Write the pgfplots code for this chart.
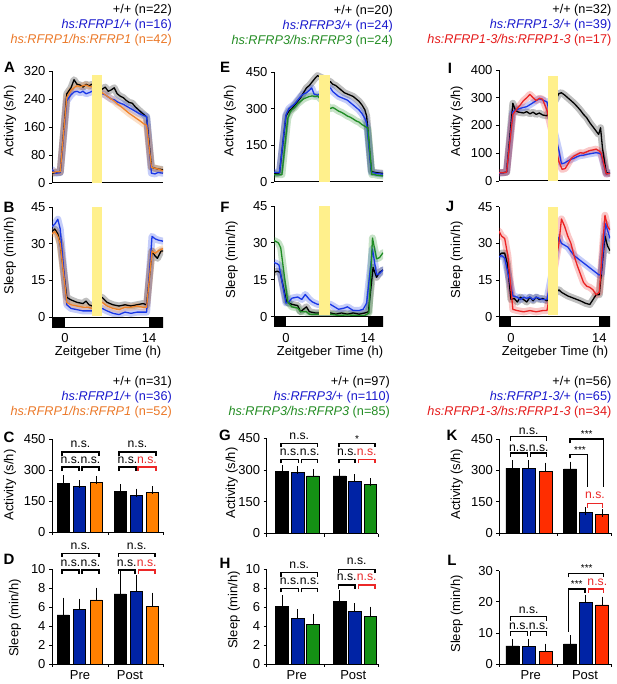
\documentclass[border=0pt]{standalone}
\usepackage{pgfplots}
\pgfplotsset{compat=1.18}
\usepackage{pgfplotstable}
\usepackage{fontspec}
\setmainfont{Liberation Sans}
\setsansfont{Liberation Sans}

\definecolor{tsblue}{RGB}{25,55,230}
\definecolor{tsorange}{RGB}{240,130,40}
\definecolor{tsgreen}{RGB}{30,140,35}
\definecolor{tsred}{RGB}{235,35,35}
\definecolor{barblue}{RGB}{0,35,165}
\definecolor{barorange}{RGB}{255,128,0}
\definecolor{bargreen}{RGB}{20,145,20}
\definecolor{barred}{RGB}{255,45,0}
\definecolor{hsyellow}{RGB}{255,240,140}
\definecolor{txtblue}{RGB}{25,25,205}
\definecolor{txtorange}{RGB}{235,120,40}
\definecolor{txtgreen}{RGB}{35,140,35}
\definecolor{txtred}{RGB}{228,25,25}
\definecolor{nsred}{RGB}{235,40,40}

\newcommand{\lblfont}{\fontsize{13}{15}\selectfont}
\newcommand{\hdrfont}{\fontsize{12.7}{15}\selectfont}
\newcommand{\nsfont}{\fontsize{12.2}{14}\selectfont}
\newcommand{\starfont}{\fontsize{10}{11}\selectfont}
\newcommand{\letfont}{\fontsize{15}{17}\selectfont\bfseries}

\pgfplotsset{
  panel/.style={scale only axis, axis x line*=bottom, axis y line*=left,
    axis line style={line width=1pt, black}, tick align=outside, major tick length=3pt,
    tick style={line width=0.8pt, black}, font=\lblfont, tick label style={font=\lblfont},
    label style={font=\lblfont}, /pgf/number format/assume math mode=true, anchor=south west},
  ts/.style={panel, xtick=\empty},
  ld/.style={panel, xtick={0,14}, xtick style={draw=none}, ymin=-4.09, ymax=45, ytick={0,15,30,45}, xlabel={Zeitgeber Time (h)}},
  barp/.style={panel, xmin=0, xtick style={draw=none}, clip=false},
  bars/.style={ybar, bar shift=0pt, draw=black, line width=0.6pt,
    error bars/y dir=plus, error bars/y explicit,
    error bars/error bar style={line width=0.9pt, black},
    error bars/error mark options={line width=0.9pt, black, mark size=4pt}},
}
\newcommand{\band}[2]{\addplot[draw=#1, line width=7pt, opacity=0.25, line join=round, line cap=round] table[x=h,y=v]{#2};}
\newcommand{\tsline}[2]{\addplot[draw=#1, line width=1.3pt, line join=round] table[x=h,y=v]{#2};}
\newcommand{\brk}[6]{\draw[#6, line width=1.1pt] (#1,#4) -- (#1,#3) -- (#2,#3) -- (#2,#5);}
\newcommand{\ns}[3]{\node[font=\nsfont, text=#3, inner sep=0] at (#1,#2) {n.s.};}
\newcommand{\stars}[3]{\node[font=\starfont, inner sep=0] at (#1,#2) {#3};}

% ---------- time series data ----------
\pgfplotstableread{
h v
-2.17 28
-1.5 30
-0.8 30
0.3 255
1 272
1.5 295
2 282
2.5 280
3 274
3.5 282
4 278
4.5 282
6.2 268
6.7 274
7.2 262
7.7 266
8.2 272
8.7 255
9.2 248
9.7 244
10.2 236
10.7 230
11.2 228
11.7 218
12.2 210
12.7 202
13.2 195
13.6 188
14.4 45
15 42
15.5 40
16.33 38
}\tAk
\pgfplotstableread{
h v
-2.17 38
-1.5 28
-0.8 30
0.3 235
1 252
1.5 260
2 262
2.5 258
3 262
3.5 255
4 258
4.5 262
6.2 255
6.7 252
7.2 246
7.7 240
8.2 238
8.7 232
9.2 228
9.7 225
10.2 220
10.7 215
11.2 210
11.7 205
12.2 200
12.7 196
13.2 192
13.6 190
14.4 28
15 26
15.5 30
16.33 28
}\tAb
\pgfplotstableread{
h v
-2.17 30
-1.5 32
-0.8 32
0.3 245
1 265
1.5 272
2 278
2.5 275
3 278
3.5 280
4 276
4.5 275
6.2 258
6.7 252
7.2 246
7.7 240
8.2 234
8.7 226
9.2 220
9.7 213
10.2 206
10.7 199
11.2 193
11.7 187
12.2 181
12.7 175
13.2 168
13.6 165
14.4 45
15 42
15.5 40
16.33 35
}\tAo
\pgfplotstableread{
h v
-2.17 35
-1.7 36
-1.2 34
-0.8 30
0.3 8
1 7
2 6
3 5.5
3.5 6.5
4 5
4.5 4.5
6.2 8
7 6
8 5
9 4.5
10 5
11 4.5
12 5
13 5.5
13.6 5
14.5 27
15 25
15.4 24
16 27
16.33 27
}\tBk
\pgfplotstableread{
h v
-2.17 37
-1.7 38
-1.2 40
-0.8 36
0.3 5
1 3.5
2 3
3 2.5
4 2.5
4.5 2.5
6.2 3.5
7 2.5
8 1.5
9 1
10 2
11 1.5
12 2
13 2
13.6 2
14.5 33
15 32
15.5 31.5
16.33 31
}\tBb
\pgfplotstableread{
h v
-2.17 34
-1.7 35
-1.2 33
-0.8 30
0.3 6
1 5
2 4.5
3 4
4 4
4.5 3.5
6.2 6
7 4.5
8 3.5
9 3
10 4
11 4
12 4.5
13 4
13.6 4
14.5 27
15 26
15.5 27
16.33 28
}\tBo
\pgfplotstableread{
h v
-2.05 35
-1.5 35
-1.1 38
0 270
0.5 290
1 300
1.5 315
2 330
2.5 345
3 365
3.5 385
4 395
4.5 410
5 425
5.4 435
7.6 410
8 400
8.5 395
9 385
9.5 375
10 365
10.5 360
11 355
11.5 350
12 340
12.5 330
13 315
13.5 295
13.8 270
14.6 45
15 40
15.5 38
16.6 35
}\tEk
\pgfplotstableread{
h v
-2.05 40
-1.5 38
-1.1 40
0 275
0.5 300
1 310
1.5 320
2 335
2.5 350
3 360
3.5 365
4 375
4.4 385
4.8 360
5.4 355
7.6 385
8 370
8.5 360
9 350
9.5 345
10 340
10.5 335
11 325
11.5 315
12 305
12.5 295
13 280
13.5 260
13.8 240
14.6 40
15 38
15.5 35
16.6 32
}\tEb
\pgfplotstableread{
h v
-2.05 30
-1.5 30
-0.7 30
0.3 260
0.7 285
1 295
1.5 305
2 320
2.5 330
3 340
3.5 345
4 350
4.5 352
5 350
5.4 352
7.6 300
8 305
8.5 298
9 290
9.5 285
10 278
10.5 270
11 265
11.5 258
12 250
12.5 245
13 235
13.5 228
14 220
14.7 30
15 32
15.5 28
16.6 25
}\tEg
\pgfplotstableread{
h v
-2.05 18
-1.5 18.5
-1 18
0.1 6
1 5
2 4.5
2.5 2
3.5 4
4 2
5 1.5
5.4 1.5
7.6 1.5
8.5 1
9.5 1.5
10.5 1
11.5 1.5
12.5 1
13.5 1.5
14.1 2
14.9 20
15.5 16
16 18
16.6 19
}\tFk
\pgfplotstableread{
h v
-2.05 22
-1.5 21.5
-1.2 21
0 5.5
0.5 6
1 7.5
2 8
2.7 7
3.3 9
4 7
4.5 6
5.4 5
7.6 5
8.3 4
9 3
10 3.5
10.5 4
11.5 2.5
12.5 2.5
13.2 3
13.8 5.5
14.8 27.5
15.5 17
16 17.5
16.6 19
}\tFb
\pgfplotstableread{
h v
-2.05 31
-1.3 30
-0.9 28
0.3 6
1 4
2 3.5
2.5 2
3.5 2
4 1
5.4 1
7.6 1
9 0.5
10.5 0.7
12 0.5
13.5 0.5
14.2 1.5
14.8 32
15.5 23.5
16 24
16.6 26
}\tFg
\pgfplotstableread{
h v
-1.9 30
-1.2 30
-0.7 32
0.3 280
0.7 255
1.2 248
2 245
2.5 250
3 242
3.5 248
4 240
4.5 245
5 238
5.7 235
7.6 315
8 318
8.5 310
9 300
9.5 290
10 280
10.5 268
11 255
11.5 240
12 228
12.5 210
13 195
13.5 180
13.9 168
14.2 192
14.5 120
15.1 30
15.7 28
}\tIk
\pgfplotstableread{
h v
-1.9 28
-1.2 30
-0.7 32
0.3 250
1 258
1.5 262
2 265
2.5 268
3 275
3.5 282
4 290
4.5 296
5 292
5.7 285
7.6 110
8 62
8.5 65
9 72
9.5 78
10 82
10.5 88
11 92
11.5 93
12 96
12.5 98
13 100
13.5 102
14 100
14.3 95
15.1 25
15.7 30
}\tIb
\pgfplotstableread{
h v
-1.9 30
-1.2 30
-0.7 32
0.3 240
1 262
1.5 275
2 290
2.5 300
3 312
3.5 300
4 290
4.5 298
5 295
5.7 255
7.6 70
8.1 42
8.6 45
9 60
9.5 80
10 90
10.5 96
11 102
11.5 100
12 105
12.5 110
13 112
13.5 115
14 108
14.3 100
15.1 25
15.7 28
}\tIr
\pgfplotstableread{
h v
-1.9 25
-1.5 26
-1 26
-0.6 22
0 7
0.5 7.5
1 6
1.5 8
2 7
2.5 6
3 8
3.5 6.5
4 8
4.5 7
5 7.5
5.7 6.5
7.6 11
8 10
9 8.5
10 7.5
11 6.5
11.8 5.5
12.5 5
13 7
13.5 9
14 9
14.9 33
15.3 29
15.7 27
}\tJk
\pgfplotstableread{
h v
-1.9 24.5
-1.5 25
-1 24
-0.5 18
0.3 8.5
1 8
1.5 7
2 8
2.5 7.5
3 8
3.5 7
4 8
4.5 7.5
5 7
5.7 7
7.6 32.5
8 30
9 28.5
10 25
10.5 24
11 23
12 21
13 19
14 17
14.3 17.5
15 38
15.7 32
}\tJb
\pgfplotstableread{
h v
-1.9 35
-1.5 33
-1 32
-0.5 25
0.3 3
1 2.5
2 2
3 2.5
4 2
5 2.5
5.7 2.5
7.6 30
8 40
8.5 37
9 33
9.5 30
10 25
10.5 21
11 17.5
11.5 14
12 12.5
12.5 12
13 11
13.5 9
14 10
14.9 41.5
15.3 37
15.7 35.5
}\tJr

\begin{document}
\begin{tikzpicture}
\useasboundingbox (0pt,0pt) rectangle (617pt,-684pt);

% ===== A =====
\begin{axis}[ts, at={(52pt,-183pt)}, width=111pt, height=112pt, xmin=-2.17, xmax=16.33, ymin=0, ymax=320,
  ytick={0,80,160,240,320}, ylabel={Activity (s/h)}, ylabel style={at={(axis description cs:-0.378,0.554)}, anchor=center}]
\band{black}{\tAk}\band{tsblue}{\tAb}\band{tsorange}{\tAo}
\tsline{black}{\tAk}\tsline{tsblue}{\tAb}\tsline{tsorange}{\tAo}
\fill[hsyellow] (axis cs:4.5,0) rectangle (axis cs:6.2,308);
\end{axis}
% ===== B =====
\begin{axis}[ld, at={(52pt,-327pt)}, width=111pt, height=120pt, xmin=-2.17, xmax=16.33,
  ylabel={Sleep (min/h)}, ylabel style={at={(axis description cs:-0.378,0.592)}, anchor=center},
  xlabel style={at={(axis description cs:0.505,-0.208)}, anchor=center}]
\band{black}{\tBk}\band{tsblue}{\tBb}\band{tsorange}{\tBo}
\tsline{black}{\tBk}\tsline{tsblue}{\tBb}\tsline{tsorange}{\tBo}
\fill[hsyellow] (axis cs:4.5,0.6) rectangle (axis cs:6.2,45);
\draw[line width=0.8pt, fill=white] (axis cs:-2.17,-4.09) rectangle (axis cs:16.33,0);
\fill[black] (axis cs:-2.17,-4.09) rectangle (axis cs:0,0);
\fill[black] (axis cs:14,-4.09) rectangle (axis cs:16.33,0);
\end{axis}
% ===== E =====
\begin{axis}[ts, at={(274pt,-182pt)}, width=109pt, height=110pt, xmin=-2.05, xmax=16.6, ymin=0, ymax=450,
  ytick={0,150,300,450}, ylabel={Activity (s/h)}, ylabel style={at={(axis description cs:-0.404,0.555)}, anchor=center}]
\band{black}{\tEk}\band{tsblue}{\tEb}\band{tsgreen}{\tEg}
\tsline{black}{\tEk}\tsline{tsblue}{\tEb}\tsline{tsgreen}{\tEg}
\fill[hsyellow] (axis cs:5.6,0) rectangle (axis cs:7.5,437);
\end{axis}
% ===== F =====
\begin{axis}[ld, at={(274pt,-326.7pt)}, width=109pt, height=120.7pt, xmin=-2.05, xmax=16.6,
  ylabel={Sleep (min/h)}, ylabel style={at={(axis description cs:-0.388,0.553)}, anchor=center},
  xlabel style={at={(axis description cs:0.514,-0.21)}, anchor=center}]
\band{black}{\tFk}\band{tsblue}{\tFb}\band{tsgreen}{\tFg}
\tsline{black}{\tFk}\tsline{tsblue}{\tFb}\tsline{tsgreen}{\tFg}
\fill[hsyellow] (axis cs:5.6,0.6) rectangle (axis cs:7.5,45);
\draw[line width=0.8pt, fill=white] (axis cs:-2.05,-4.09) rectangle (axis cs:16.6,0);
\fill[black] (axis cs:-2.05,-4.09) rectangle (axis cs:0,0);
\fill[black] (axis cs:14,-4.09) rectangle (axis cs:16.6,0);
\end{axis}
% ===== I =====
\begin{axis}[ts, at={(499pt,-181pt)}, width=111pt, height=111pt, xmin=-1.9, xmax=15.7, ymin=0, ymax=400,
  ytick={0,100,200,300,400}, ylabel={Activity (s/h)}, ylabel style={at={(axis description cs:-0.381,0.54)}, anchor=center}]
\band{black}{\tIk}\band{tsblue}{\tIb}\band{tsred}{\tIr}
\tsline{black}{\tIk}\tsline{tsblue}{\tIb}\tsline{tsred}{\tIr}
\fill[hsyellow] (axis cs:5.8,0) rectangle (axis cs:7.5,378);
\end{axis}
% ===== J =====
\begin{axis}[ld, at={(499pt,-326.7pt)}, width=111pt, height=120pt, xmin=-1.9, xmax=15.7,
  ylabel={Sleep (min/h)}, ylabel style={at={(axis description cs:-0.381,0.556)}, anchor=center},
  xlabel style={at={(axis description cs:0.505,-0.21)}, anchor=center}]
\band{black}{\tJk}\band{tsblue}{\tJb}\band{tsred}{\tJr}
\tsline{black}{\tJk}\tsline{tsblue}{\tJb}\tsline{tsred}{\tJr}
\fill[hsyellow] (axis cs:5.8,0.6) rectangle (axis cs:7.5,45);
\draw[line width=0.8pt, fill=white] (axis cs:-1.9,-4.09) rectangle (axis cs:15.7,0);
\fill[black] (axis cs:-1.9,-4.09) rectangle (axis cs:0,0);
\fill[black] (axis cs:14,-4.09) rectangle (axis cs:15.7,0);
\end{axis}

% ===== C =====
\begin{axis}[barp, at={(52pt,-532pt)}, width=111pt, height=93pt, xmax=111, ymin=0, ymax=450,
  ytick={0,150,300,450}, xtick=\empty, ylabel={Activity (s/h)}, ylabel style={at={(axis description cs:-0.378,0.505)}, anchor=center}]
\addplot[bars, bar width=12, fill=black] coordinates {(11,236) +- (0,19) (68,198) +- (0,13)};
\addplot[bars, bar width=12, fill=barblue] coordinates {(27.5,219) +- (0,12) (84.5,179) +- (0,11)};
\addplot[bars, bar width=12, fill=barorange] coordinates {(44,240) +- (0,12) (100.5,192) +- (0,11)};
\draw[line width=0.8pt] (axis cs:0,0) -- ++(0pt,-3pt) (axis cs:56,0) -- ++(0pt,-3pt) (axis cs:111,0) -- ++(0pt,-3pt);
\end{axis}
% ===== D =====
\begin{axis}[barp, at={(52pt,-664pt)}, width=111pt, height=95pt, xmax=111, ymin=0, ymax=10,
  ytick={0,2,4,6,8,10}, xtick={28,78}, xticklabels={Pre,Post}, ylabel={Sleep (min/h)}, ylabel style={at={(axis description cs:-0.333,0.484)}, anchor=center}]
\addplot[bars, bar width=12, fill=black] coordinates {(11,5.16) +- (0,1.4) (68,7.37) +- (0,2.07)};
\addplot[bars, bar width=12, fill=barblue] coordinates {(27.5,5.75) +- (0,0.7) (84.5,7.68) +- (0,1.24)};
\addplot[bars, bar width=12, fill=barorange] coordinates {(44,6.74) +- (0,0.88) (100.5,6.03) +- (0,1.05)};
\draw[line width=0.8pt] (axis cs:0,0) -- ++(0pt,-3pt) (axis cs:56,0) -- ++(0pt,-3pt) (axis cs:111,0) -- ++(0pt,-3pt);
\end{axis}
% ===== G =====
\begin{axis}[barp, at={(266.7pt,-533.5pt)}, width=111.3pt, height=95.2pt, xmax=111.3, ymin=0, ymax=450,
  ytick={0,150,300,450}, xtick=\empty, ylabel={Activity (s/h)}, ylabel style={at={(axis description cs:-0.314,0.53)}, anchor=center}]
\addplot[bars, bar width=12.6, fill=black] coordinates {(15.3,292) +- (0,13) (72.8,272) +- (0,16)};
\addplot[bars, bar width=12.6, fill=barblue] coordinates {(30.8,288) +- (0,12) (88,248) +- (0,13)};
\addplot[bars, bar width=12.6, fill=bargreen] coordinates {(46.3,272) +- (0,13) (103.6,233) +- (0,9)};
\draw[line width=0.8pt] (axis cs:0,0) -- ++(0pt,-3pt) (axis cs:58,0) -- ++(0pt,-3pt) (axis cs:111.3,0) -- ++(0pt,-3pt);
\end{axis}
% ===== H =====
\begin{axis}[barp, at={(266.7pt,-664pt)}, width=111.3pt, height=94.7pt, xmax=111.3, ymin=0, ymax=10,
  ytick={0,2,4,6,8,10}, xtick={30,86.6}, xticklabels={Pre,Post}, ylabel={Sleep (min/h)}, ylabel style={at={(axis description cs:-0.294,0.57)}, anchor=center}]
\addplot[bars, bar width=12.6, fill=black] coordinates {(15.3,6.12) +- (0,0.74) (72.8,6.58) +- (0,0.81)};
\addplot[bars, bar width=12.6, fill=barblue] coordinates {(30.8,4.82) +- (0,0.53) (88,5.52) +- (0,0.46)};
\addplot[bars, bar width=12.6, fill=bargreen] coordinates {(46.3,4.22) +- (0,0.67) (103.6,4.99) +- (0,0.64)};
\draw[line width=0.8pt] (axis cs:0,0) -- ++(0pt,-3pt) (axis cs:58,0) -- ++(0pt,-3pt) (axis cs:111.3,0) -- ++(0pt,-3pt);
\end{axis}
% ===== K =====
\begin{axis}[barp, at={(499.3pt,-533pt)}, width=112.4pt, height=94pt, xmax=112.4, ymin=0, ymax=450,
  ytick={0,150,300,450}, xtick=\empty, ylabel={Activity (s/h)}, ylabel style={at={(axis description cs:-0.379,0.52)}, anchor=center}]
\addplot[bars, bar width=13, fill=black] coordinates {(13,310) +- (0,19) (70.7,307) +- (0,15)};
\addplot[bars, bar width=13, fill=barblue] coordinates {(29.4,310) +- (0,20) (86.2,98) +- (0,5)};
\addplot[bars, bar width=13, fill=barred] coordinates {(46.2,294) +- (0,24) (102.9,90) +- (0,4.5)};
\draw[line width=0.8pt] (axis cs:0,0) -- ++(0pt,-3pt) (axis cs:58,0) -- ++(0pt,-3pt) (axis cs:112.4,0) -- ++(0pt,-3pt);
\end{axis}
% ===== L =====
\begin{axis}[barp, at={(499.3pt,-664pt)}, width=112.4pt, height=93.3pt, xmax=112.4, ymin=0, ymax=30,
  ytick={0,10,20,30}, xtick={31.4,85.7}, xticklabels={Pre,Post}, ylabel={Sleep (min/h)}, ylabel style={at={(axis description cs:-0.379,0.536)}, anchor=center}]
\addplot[bars, bar width=13, fill=black] coordinates {(13,5.8) +- (0,0.87) (70.7,6.45) +- (0,1.5)};
\addplot[bars, bar width=13, fill=barblue] coordinates {(29.4,5.6) +- (0,1.3) (86.2,19.8) +- (0,1.2)};
\addplot[bars, bar width=13, fill=barred] coordinates {(46.2,4.0) +- (0,1.3) (102.9,19.0) +- (0,1.4)};
\draw[line width=0.8pt] (axis cs:0,0) -- ++(0pt,-3pt) (axis cs:58,0) -- ++(0pt,-3pt) (axis cs:112.4,0) -- ++(0pt,-3pt);
\end{axis}

% ===== annotations in pixel coordinates =====
\begin{scope}[x=1pt,y=-1pt]
% headers top
\node[anchor=east, font=\hdrfont, inner sep=0] at (172,10) {+/+ (n=22)};
\node[anchor=east, font=\hdrfont, inner sep=0, text=txtblue] at (172,25) {\textit{hs:RFRP1/+} (n=16)};
\node[anchor=east, font=\hdrfont, inner sep=0, text=txtorange] at (172,40) {\textit{hs:RFRP1/hs:RFRP1} (n=42)};
\node[anchor=east, font=\hdrfont, inner sep=0] at (393,11) {+/+ (n=20)};
\node[anchor=east, font=\hdrfont, inner sep=0, text=txtblue] at (393,26) {\textit{hs:RFRP3/+} (n=24)};
\node[anchor=east, font=\hdrfont, inner sep=0, text=txtgreen] at (393,41) {\textit{hs:RFRP3/hs:RFRP3} (n=24)};
\node[anchor=east, font=\hdrfont, inner sep=0] at (611.5,10) {+/+ (n=32)};
\node[anchor=east, font=\hdrfont, inner sep=0, text=txtblue] at (611.5,25) {\textit{hs:RFRP1-3/+} (n=39)};
\node[anchor=east, font=\hdrfont, inner sep=0, text=txtred] at (611.5,40) {\textit{hs:RFRP1-3/hs:RFRP1-3} (n=17)};
% headers bottom
\node[anchor=east, font=\hdrfont, inner sep=0] at (172,382) {+/+ (n=31)};
\node[anchor=east, font=\hdrfont, inner sep=0, text=txtblue] at (172,397) {\textit{hs:RFRP1/+} (n=36)};
\node[anchor=east, font=\hdrfont, inner sep=0, text=txtorange] at (172,412) {\textit{hs:RFRP1/hs:RFRP1} (n=52)};
\node[anchor=east, font=\hdrfont, inner sep=0] at (390,382) {+/+ (n=97)};
\node[anchor=east, font=\hdrfont, inner sep=0, text=txtblue] at (390,397) {\textit{hs:RFRP3/+} (n=110)};
\node[anchor=east, font=\hdrfont, inner sep=0, text=txtgreen] at (390,412) {\textit{hs:RFRP3/hs:RFRP3} (n=85)};
\node[anchor=east, font=\hdrfont, inner sep=0] at (611.5,382) {+/+ (n=56)};
\node[anchor=east, font=\hdrfont, inner sep=0, text=txtblue] at (611.5,397) {\textit{hs:RFRP1-3/+} (n=65)};
\node[anchor=east, font=\hdrfont, inner sep=0, text=txtred] at (611.5,412) {\textit{hs:RFRP1-3/hs:RFRP1-3} (n=34)};
% panel letters
\node[font=\letfont] at (9.5,67) {A};
\node[font=\letfont] at (9,207) {B};
\node[font=\letfont] at (9,437) {C};
\node[font=\letfont] at (9,559) {D};
\node[font=\letfont] at (225,67) {E};
\node[font=\letfont] at (225,207) {F};
\node[font=\letfont] at (225,435) {G};
\node[font=\letfont] at (225,563) {H};
\node[font=\letfont] at (450,68) {I};
\node[font=\letfont] at (450,206) {J};
\node[font=\letfont] at (452,435) {K};
\node[font=\letfont] at (452,560) {L};

% ---- C brackets ----
\brk{62}{99}{452}{456}{456}{black}\ns{80.5}{444}{black}
\brk{62}{79}{467}{471}{471}{black}\ns{70.5}{460}{black}
\brk{82}{99}{467}{471}{471}{black}\ns{90.5}{460}{black}
\brk{119}{156}{452}{456}{456}{black}\ns{137.5}{444}{black}
\brk{119}{136}{467}{471}{471}{black}\ns{127.5}{460}{black}
\brk{138}{156}{467}{471}{471}{nsred}\ns{147}{460}{nsred}
% ---- D brackets ----
\brk{62}{99}{553.3}{557}{557}{black}\ns{80.5}{546.7}{black}
\brk{62}{79}{570}{573.7}{573.7}{black}\ns{70.5}{563}{black}
\brk{82}{99}{570}{573.7}{573.7}{black}\ns{90.5}{563}{black}
\brk{118.3}{155}{553.3}{557}{557}{black}\ns{136.7}{546.7}{black}
\brk{118.3}{135}{570}{573.7}{573.7}{black}\ns{126.7}{563}{black}
\brk{138.3}{155}{570}{573.7}{573.7}{nsred}\ns{146.7}{563}{nsred}
% ---- G brackets ----
\brk{281}{317.7}{443.3}{447.3}{447.3}{black}\ns{299.3}{436.7}{black}
\brk{281}{298.3}{459.3}{463.3}{463.3}{black}\ns{289.7}{452.7}{black}
\brk{301.7}{317.7}{459.3}{463.3}{463.3}{black}\ns{309.7}{452.7}{black}
\brk{339}{375}{443.3}{447.3}{447.3}{black}\stars{357}{439}{*}
\brk{339}{355}{459.3}{463.3}{463.3}{black}\ns{347}{452.7}{black}
\brk{358.3}{375}{459.3}{463.3}{463.3}{nsred}\ns{366.7}{452.7}{nsred}
% ---- H brackets ----
\brk{281}{317.7}{572.7}{576.7}{576.7}{black}\ns{299.3}{565}{black}
\brk{281}{298.3}{588.3}{592.3}{592.3}{black}\ns{289.7}{581}{black}
\brk{301.7}{317.7}{588.3}{592.3}{592.3}{black}\ns{309.7}{581}{black}
\brk{338.3}{375}{569.3}{573.3}{573.3}{black}\ns{356.7}{561.7}{black}
\brk{338.3}{355}{585}{589}{589}{black}\ns{346.7}{577.3}{black}
\brk{358.3}{375}{585}{589}{589}{nsred}\ns{366.7}{577.3}{nsred}
% ---- K brackets ----
\brk{510.7}{546.7}{436.7}{440.7}{440.7}{black}\ns{528.7}{431}{black}
\brk{510.7}{527.3}{453}{457}{457}{black}\ns{519}{448}{black}
\brk{530.7}{546.7}{453}{457}{457}{black}\ns{538.7}{448}{black}
\brk{570}{603.3}{439}{443.3}{486.7}{black}\stars{586.7}{434.5}{***}
\brk{570}{587.3}{454.3}{458.3}{486.7}{black}\stars{580}{450}{***}
\brk{587.3}{602.3}{503.7}{507.7}{507.7}{nsred}\ns{595}{495}{nsred}
% ---- L brackets ----
\brk{510.7}{546.7}{616.7}{620.7}{620.7}{black}\ns{528.7}{610}{black}
\brk{510.7}{527.3}{631.7}{635.7}{635.7}{black}\ns{519}{626}{black}
\brk{530.7}{546.7}{631.7}{635.7}{635.7}{black}\ns{538.7}{626}{black}
\brk{568.3}{603.3}{573.3}{577.3}{577.3}{black}\stars{586.7}{568}{***}
\brk{568.3}{585}{589}{631.7}{592.7}{black}\stars{576.7}{584.5}{***}
\brk{588.3}{603.3}{589}{592.7}{592.7}{nsred}\ns{597.3}{582.3}{nsred}
\end{scope}
\end{tikzpicture}
\end{document}
